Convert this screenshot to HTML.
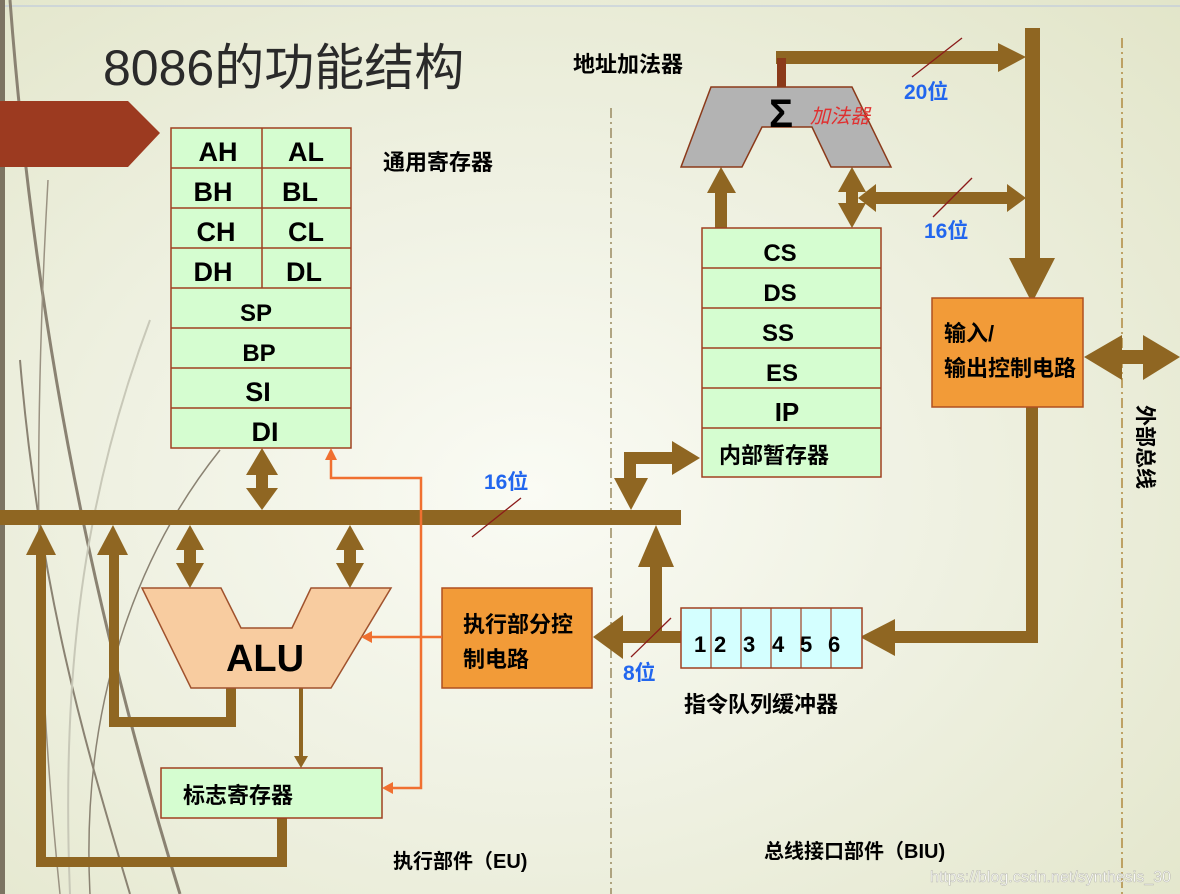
<!DOCTYPE html>
<html><head><meta charset="utf-8"><style>
html,body{margin:0;padding:0;}
body{width:1180px;height:894px;overflow:hidden;background:radial-gradient(ellipse at 45% 55%,#fafbf4 0%,#eff1e2 45%,#e2e5c9 100%);}
svg{display:block;}
text{font-family:"Liberation Sans","Noto Sans CJK SC",sans-serif;}
.b{font-weight:bold;}
</style></head><body>
<svg width="1180" height="894" viewBox="0 0 1180 894" xmlns="http://www.w3.org/2000/svg">
<line x1="0" y1="6" x2="1180" y2="6" stroke="#b8c4e0" stroke-width="1"/>
<rect x="0" y="0" width="5" height="894" fill="#7c7462"/>
<path d="M10,0 C40,400 120,700 180,894" stroke="#8a8272" stroke-width="3" fill="none"/>
<path d="M20,360 C40,600 90,760 130,894" stroke="#8a8272" stroke-width="2" fill="none"/>
<path d="M48,180 C30,500 40,700 60,894" stroke="#9a9282" stroke-width="1.5" fill="none"/>
<path d="M220,450 C140,550 80,700 90,894" stroke="#8a8272" stroke-width="1.5" fill="none"/>
<path d="M150,320 C90,480 60,650 70,894" stroke="#c8c8b8" stroke-width="2" fill="none"/>
<polygon points="0,101 128,101 160,133 128,167 0,167" fill="#9c3a20"/>
<text x="103" y="85" font-size="50" fill="#2a2a2a">8086的功能结构</text>

<rect x="171" y="128" width="180" height="320" stroke="#a04020" stroke-width="1.5" fill="#d5fdd0"/>
<g stroke="#a04020" stroke-width="1.5">
<line x1="171" y1="168" x2="351" y2="168"/><line x1="171" y1="208" x2="351" y2="208"/>
<line x1="171" y1="248" x2="351" y2="248"/><line x1="171" y1="288" x2="351" y2="288"/>
<line x1="171" y1="328" x2="351" y2="328"/><line x1="171" y1="368" x2="351" y2="368"/>
<line x1="171" y1="408" x2="351" y2="408"/><line x1="262" y1="128" x2="262" y2="288"/>
</g>
<g class="b" font-size="27" text-anchor="middle" fill="#000">
<text x="218" y="161">AH</text><text x="306" y="161">AL</text>
<text x="213" y="201">BH</text><text x="300" y="201">BL</text>
<text x="216" y="241">CH</text><text x="306" y="241">CL</text>
<text x="213" y="281">DH</text><text x="304" y="281">DL</text>
<text x="256" y="321" font-size="24">SP</text><text x="259" y="361" font-size="24">BP</text>
<text x="258" y="401">SI</text><text x="265" y="441">DI</text>
</g>
<text x="383" y="170" font-size="22" class="b">通用寄存器</text>
<text x="573" y="72" font-size="22" class="b">地址加法器</text>

<line x1="611" y1="108" x2="611" y2="894" stroke="#9a8a60" stroke-width="1.5" stroke-dasharray="10,4,2,4"/>
<line x1="1122" y1="38" x2="1122" y2="894" stroke="#b08a40" stroke-width="1.5" stroke-dasharray="10,4,2,4"/>

<g fill="#8f6622">
<rect x="0" y="510" width="681" height="15"/>
<rect x="256" y="470" width="12" height="22"/>
<polygon points="246,475 278,475 262,448"/><polygon points="246,488 278,488 262,510"/>
<rect x="184" y="545" width="12" height="25"/>
<polygon points="176,550 204,550 190,525"/><polygon points="176,563 204,563 190,588"/>
<rect x="344" y="545" width="12" height="25"/>
<polygon points="336,550 364,550 350,525"/><polygon points="336,563 364,563 350,588"/>
<rect x="109" y="550" width="10" height="177"/>
<polygon points="97,555 128,555 113,525"/>
<rect x="109" y="717" width="127" height="10"/>
<rect x="226" y="688" width="10" height="39"/>
<rect x="36" y="550" width="10" height="317"/>
<polygon points="26,555 56,555 41,525"/>
<rect x="36" y="857" width="251" height="10"/>
<rect x="277" y="818" width="10" height="49"/>
<rect x="299" y="688" width="4" height="70"/>
<polygon points="294,756 308,756 301,768"/>
<rect x="624" y="452" width="12" height="30"/>
<rect x="624" y="452" width="50" height="12"/>
<polygon points="672,441 672,475 700,458"/>
<polygon points="614,478 648,478 631,510"/>
<rect x="620" y="631" width="62" height="12"/>
<polygon points="623,615 623,659 593,637"/>
<rect x="650" y="562" width="12" height="75"/>
<polygon points="638,567 674,567 656,525"/>
<rect x="1026" y="407" width="12" height="236"/>
<rect x="893" y="631" width="145" height="12"/>
<polygon points="895,619 895,656 860,637"/>
<rect x="776" y="51" width="226" height="13"/>
<polygon points="998,43 998,72 1026,57"/>
<rect x="1025" y="28" width="15" height="232"/>
<polygon points="1009,258 1055,258 1032,303"/>
<rect x="715" y="190" width="12" height="38"/>
<polygon points="707,193 736,193 721,167"/>
<rect x="846" y="188" width="12" height="20"/>
<polygon points="838,192 866,192 852,167"/><polygon points="838,203 866,203 852,228"/>
<rect x="866" y="192" width="145" height="12"/>
<polygon points="876,184 876,212 858,198"/>
<polygon points="1007,184 1007,212 1026,198"/>
<rect x="1110" y="350" width="40" height="14"/>
<polygon points="1122,335 1122,380 1084,357"/>
<polygon points="1143,335 1143,380 1180,357"/>
</g>
<rect x="777" y="58" width="9" height="30" fill="#8b3a1a"/>

<polygon points="711,87 852,87 891,167 831,167 812,127 762,127 742,167 681,167" fill="#b3b3b3" stroke="#8b3a1a" stroke-width="1.5"/>
<text x="781" y="127" font-size="40" class="b" text-anchor="middle">Σ</text>
<text x="810" y="123" font-size="20" fill="#e03030" font-style="italic">加法器</text>

<rect x="702" y="228" width="179" height="249" fill="#d5fdd0" stroke="#a04020" stroke-width="1.5"/>
<g stroke="#a04020" stroke-width="1.5">
<line x1="702" y1="268" x2="881" y2="268"/><line x1="702" y1="308" x2="881" y2="308"/>
<line x1="702" y1="348" x2="881" y2="348"/><line x1="702" y1="388" x2="881" y2="388"/>
<line x1="702" y1="428" x2="881" y2="428"/>
</g>
<g class="b" font-size="24" text-anchor="middle">
<text x="780" y="261">CS</text><text x="780" y="301">DS</text><text x="778" y="341">SS</text>
<text x="782" y="381">ES</text><text x="787" y="421" font-size="26">IP</text>
</g>
<text x="719" y="463" font-size="22" class="b">内部暂存器</text>

<rect x="932" y="298" width="151" height="109" fill="#f29b38" stroke="#b05020" stroke-width="1.5"/>
<text x="944" y="341" font-size="22" class="b">输入/</text>
<text x="944" y="376" font-size="22" class="b">输出控制电路</text>

<rect x="681" y="608" width="181" height="60" fill="#d4ffff" stroke="#a04020" stroke-width="1.5"/>
<g stroke="#a04020" stroke-width="1.2">
<line x1="711" y1="608" x2="711" y2="668"/><line x1="741" y1="608" x2="741" y2="668"/>
<line x1="771" y1="608" x2="771" y2="668"/><line x1="801" y1="608" x2="801" y2="668"/>
<line x1="831" y1="608" x2="831" y2="668"/>
</g>
<g class="b" font-size="22"><text x="694" y="652">1</text><text x="714" y="652">2</text><text x="743" y="652">3</text><text x="772" y="652">4</text><text x="800" y="652">5</text><text x="828" y="652">6</text></g>
<text x="684" y="712" font-size="22" class="b">指令队列缓冲器</text>

<polygon points="142,588 221,588 241,628 292,628 311,588 391,588 331,688 191,688" fill="#f8cca0" stroke="#a0522d" stroke-width="1.5"/>
<text x="265" y="671" font-size="38" class="b" text-anchor="middle">ALU</text>

<rect x="442" y="588" width="150" height="100" fill="#f29b38" stroke="#b05020" stroke-width="1.5"/>
<text x="463" y="632" font-size="22" class="b">执行部分控</text>
<text x="463" y="667" font-size="22" class="b">制电路</text>

<rect x="161" y="768" width="221" height="50" fill="#d5fdd0" stroke="#a04020" stroke-width="1.5"/>
<text x="183" y="803" font-size="22" class="b">标志寄存器</text>

<g stroke="#f07030" stroke-width="2.5" fill="none">
<polyline points="442,637 368,637"/>
<polyline points="331,460 331,478 421,478 421,788 390,788"/>
</g>
<g fill="#f07030">
<polygon points="361,637 372,631 372,643"/>
<polygon points="331,448 325,460 337,460"/>
<polygon points="382,788 393,782 393,794"/>
</g>

<g stroke="#8b1a1a" stroke-width="1.3">
<line x1="912" y1="77" x2="962" y2="38"/>
<line x1="933" y1="217" x2="972" y2="178"/>
<line x1="472" y1="537" x2="521" y2="498"/>
<line x1="631" y1="657" x2="671" y2="618"/>
</g>
<g class="b" font-size="21" fill="#2266ee">
<text x="904" y="99">20位</text><text x="924" y="238">16位</text>
<text x="484" y="489">16位</text><text x="623" y="680">8位</text>
</g>

<text transform="translate(1138,405) rotate(90)" font-size="21" class="b">外部总线</text>
<text x="393" y="868" font-size="20" class="b">执行部件（EU)</text>
<text x="764" y="858" font-size="20" class="b">总线接口部件（BIU)</text>
<text x="930" y="882" font-size="16" fill="#ffffff" stroke="#b8b8b0" stroke-width="0.5">https://blog.csdn.net/synthesis_30</text>
</svg>
</body></html>
